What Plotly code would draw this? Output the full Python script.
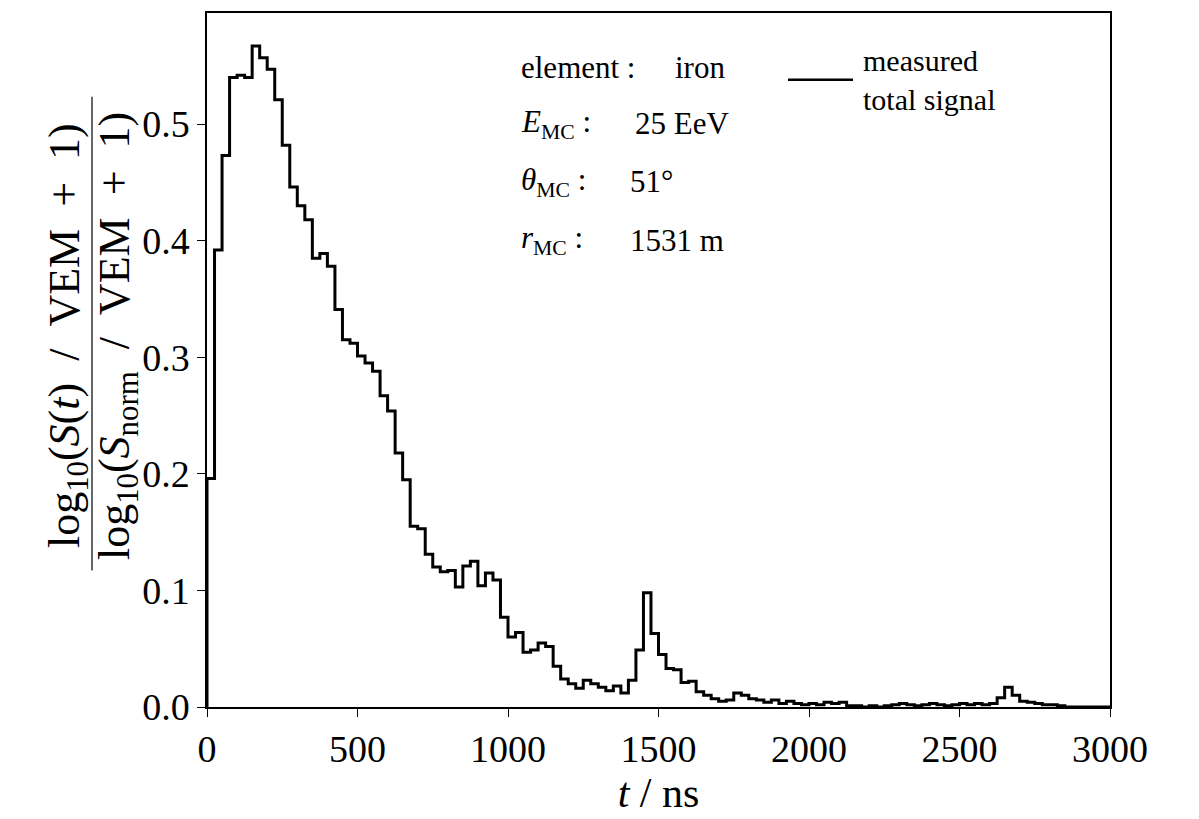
import numpy as np
import plotly.graph_objects as go

# Binned time trace of the measured total signal (25 ns bins, 0 - 3000 ns)
bin_width_ns = 25
t_max_ns = 3000
signal_ratio = [
    0.196, 0.392, 0.473, 0.540, 0.542, 0.540, 0.567, 0.557, 0.547, 0.521,
    0.482, 0.446, 0.430, 0.418, 0.385, 0.389, 0.378, 0.341, 0.315, 0.312,
    0.301, 0.295, 0.288, 0.267, 0.254, 0.218, 0.195, 0.155, 0.153, 0.131,
    0.120, 0.116, 0.117, 0.103, 0.121, 0.125, 0.104, 0.115, 0.109, 0.077,
    0.060, 0.064, 0.047, 0.049, 0.055, 0.052, 0.035, 0.024, 0.020, 0.016,
    0.023, 0.020, 0.017, 0.014, 0.018, 0.012, 0.023, 0.049, 0.098, 0.063,
    0.045, 0.033, 0.032, 0.021, 0.022, 0.013, 0.010, 0.007, 0.005, 0.006,
    0.012, 0.010, 0.007, 0.006, 0.004, 0.006, 0.003, 0.005, 0.003, 0.002,
    0.003, 0.002, 0.004, 0.003, 0.004, 0.001, 0.001, 0.000, 0.001, 0.000,
    0.001, 0.002, 0.003, 0.002, 0.001, 0.002, 0.003, 0.002, 0.001, 0.002,
    0.003, 0.002, 0.003, 0.002, 0.003, 0.008, 0.017, 0.010, 0.005, 0.004,
    0.003, 0.002, 0.002, 0.001, 0.000, 0.000, 0.000, 0.000, 0.000, 0.000,
]

x_ticks = [0, 500, 1000, 1500, 2000, 2500, 3000]
y_ticks = [0.0, 0.1, 0.2, 0.3, 0.4, 0.5]

info_labels = ["element :", "<i>E</i><sub>MC</sub>&nbsp;:", "<i>θ</i><sub>MC</sub>&nbsp;:",
               "<i>r</i><sub>MC</sub>&nbsp;:"]
info_values = ["iron", "25 EeV", "51°", "1531 m"]
legend_label = "measured<br>total signal"

SP = "&nbsp;&nbsp;"
numerator = f"log<sub>10</sub>(<i>S</i>(<i>t</i>){SP}/{SP}VEM{SP}+{SP}1)"
denominator = f"log<sub>10</sub>(<i>S</i><sub>norm</sub>{SP}/{SP}VEM{SP}+{SP}1)"

# ---------------------------------------------------------------------------
W, H = 1199, 819
L, R, T, B = 207, 1110, 11, 707  # plot area in pixels
FONT = "Liberation Serif"


def px(x):
    return (x - L) / (R - L)


def py(y):
    return (B - y) / (B - T)


edges = np.arange(0, t_max_ns + bin_width_ns, bin_width_ns)
x_step = [0.0] + list(edges[:-1]) + [t_max_ns, t_max_ns]
y_step = [0.0] + list(signal_ratio) + [signal_ratio[-1], 0.0]

fig = go.Figure()
fig.add_trace(go.Scatter(
    x=x_step, y=y_step, mode="lines", line_shape="hv",
    line=dict(color="black", width=3), showlegend=False,
    name="measured total signal",
))

y_top = max(signal_ratio) * 1.05

axis_common = dict(
    showgrid=False, zeroline=False, ticks="outside", ticklen=8, tickwidth=1.2,
    tickcolor="black", showline=True, linecolor="black", linewidth=1.5,
    mirror=True, tickfont=dict(family=FONT, size=38, color="black"),
)

fig.update_layout(
    width=W, height=H,
    margin=dict(l=L, r=W - R, t=T, b=H - B),
    paper_bgcolor="white", plot_bgcolor="white",
    xaxis=dict(range=[0, t_max_ns], tickvals=x_ticks,
               title=dict(text="<i>t</i> / ns", standoff=6,
                          font=dict(family=FONT, size=42, color="black")),
               **axis_common),
    yaxis=dict(range=[0, y_top], tickvals=y_ticks,
               ticktext=[f"{v:.1f}" for v in y_ticks],
               **axis_common),
)

# y-axis label drawn as a stacked fraction
frac_y = py(335)
fig.add_annotation(x=px(67), y=frac_y, xref="paper", yref="paper", text=numerator,
                   textangle=-90, showarrow=False, xanchor="center", yanchor="middle",
                   font=dict(family=FONT, size=44, color="black"))
fig.add_annotation(x=px(117), y=frac_y, xref="paper", yref="paper", text=denominator,
                   textangle=-90, showarrow=False, xanchor="center", yanchor="middle",
                   font=dict(family=FONT, size=44, color="black"))
fig.add_shape(type="line", xref="paper", yref="paper",
              x0=px(92), x1=px(92), y0=py(95), y1=py(570),
              line=dict(color="black", width=1.2))

# event description
row_y = [66, 122, 180, 239]
value_x = [673, 633, 628, 628]
for lab, val, yy, vx in zip(info_labels, info_values, row_y, value_x):
    fig.add_annotation(x=px(519), y=py(yy), xref="paper", yref="paper", text=lab,
                       showarrow=False, xanchor="left", yanchor="middle",
                       font=dict(family=FONT, size=31, color="black"))
    fig.add_annotation(x=px(vx), y=py(yy), xref="paper", yref="paper", text=val,
                       showarrow=False, xanchor="left", yanchor="middle",
                       font=dict(family=FONT, size=31, color="black"))

# legend entry
fig.add_shape(type="line", xref="paper", yref="paper",
              x0=px(788), x1=px(853), y0=py(78), y1=py(78),
              line=dict(color="black", width=2.6))
fig.add_annotation(x=px(861), y=py(40), xref="paper", yref="paper", text=legend_label,
                   showarrow=False, xanchor="left", yanchor="top", align="left",
                   font=dict(family=FONT, size=30, color="black"))

fig.write_html("out.html")
